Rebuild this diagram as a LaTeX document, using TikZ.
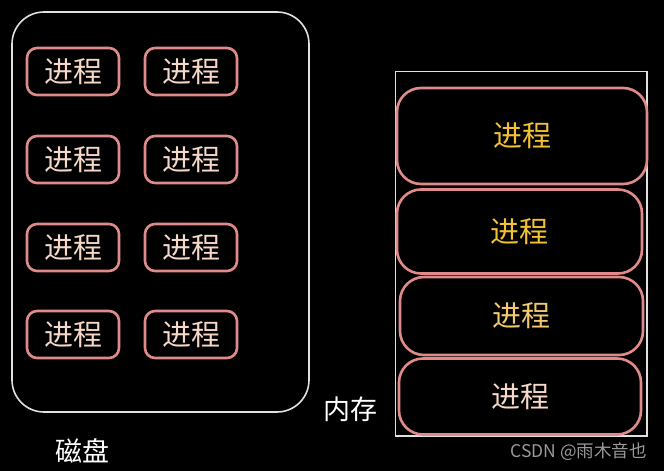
\documentclass[tikz,border=0pt]{standalone}
\usepackage{fontspec}
\setmainfont{Noto Sans CJK SC}
\newfontfamily\cjk{Noto Sans CJK SC}
\definecolor{pinkb}{HTML}{E08A8A}
\definecolor{peach}{HTML}{F5D8C8}
\definecolor{gold}{HTML}{F2C232}
\definecolor{goldl}{HTML}{F2C870}
\definecolor{frame}{HTML}{E0E0E0}
\tikzset{
  small/.style={draw=pinkb, line width=2.6pt, rounded corners=10pt, minimum width=92pt, minimum height=47pt, inner sep=0pt, text=peach, font=\cjk\fontsize{29}{30}\selectfont},
  big/.style={draw=pinkb, line width=2.6pt, rounded corners=24pt, inner sep=0pt, font=\cjk\fontsize{29}{30}\selectfont},
  lbl/.style={text=white, font=\cjk\fontsize{27}{28}\selectfont, inner sep=0pt}
}
\begin{document}
\begin{tikzpicture}[x=1pt,y=-1pt]
\fill[black] (0,0) rectangle (664,471);
\useasboundingbox (0,0) rectangle (664,471);
% disk
\draw[frame, line width=1.6pt, rounded corners=32pt] (12,12) rectangle (309,412);
\foreach \r/\y in {1/71.5,2/159.5,3/247.5,4/334.5}{
  \node[small] (a\r) at (73,\y) {\raisebox{-1.5pt}{进程}};
  \node[small] (b\r) at (191,\y) {\raisebox{-1.5pt}{进程}};
}
\node[lbl] (disk) at (82,451) {磁盘};
% memory
\draw[frame, line width=1.2pt] (395.5,71.5) rectangle (647,436);
\node[big, minimum width=250pt, minimum height=96pt, text=gold] (m1) at (522,136) {\raisebox{-1.5pt}{进程}};
\node[big, minimum width=245pt, minimum height=84pt, text=gold] (m2) at (519.5,231.5) {\raisebox{-1.5pt}{进程}};
\node[big, minimum width=243pt, minimum height=78pt, text=goldl] (m3) at (521.5,316) {\raisebox{-1.5pt}{进程}};
\node[big, minimum width=242pt, minimum height=76pt, text=peach] (m4) at (520,396.5) {进程};
\node[lbl] (mem) at (350,409) {内存};
\node[text=gray!80, font=\cjk\fontsize{17.5}{18}\selectfont, inner sep=0pt, anchor=east] (wm) at (647,452) {CSDN @雨木音也};
\end{tikzpicture}
\end{document}
